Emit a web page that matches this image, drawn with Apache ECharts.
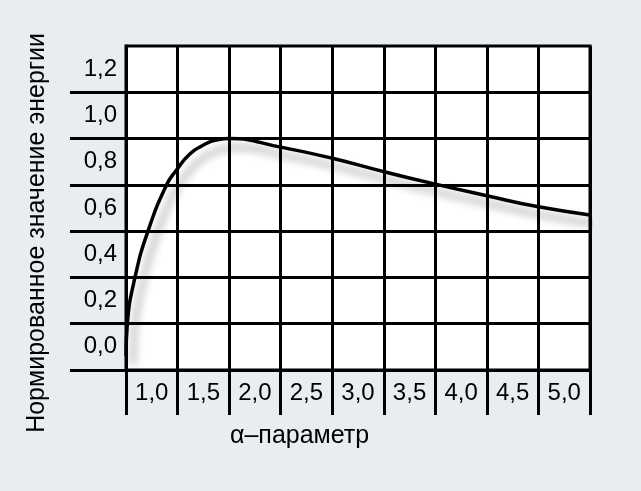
<!DOCTYPE html>
<html>
<head>
<meta charset="utf-8">
<script src="https://cdn.jsdelivr.net/npm/echarts@6/dist/echarts.min.js"></script>
<style>
html,body{margin:0;padding:0;background:#e8edf0;}
#chart{width:641px;height:491px;}
</style>
</head>
<body>
<div id="chart"></div>
<script>
// Data
const alphaValues = [1.0, 1.013, 1.087, 1.213, 1.394, 1.49, 1.6, 1.75, 1.9, 2.0, 2.5, 3.0, 3.5, 4.0, 4.5, 5.0, 5.5];
const energyValues = [0.06, 0.2, 0.4, 0.6, 0.8, 0.864, 0.925, 0.972, 0.996, 1.0, 0.963, 0.915, 0.857, 0.803, 0.753, 0.705, 0.67];
const xTickValues = [1.0, 1.5, 2.0, 2.5, 3.0, 3.5, 4.0, 4.5, 5.0, 5.5];
const xTickLabels = ['1,0', '1,5', '2,0', '2,5', '3,0', '3,5', '4,0', '4,5', '5,0'];
const yTickValues = [0, 0.2, 0.4, 0.6, 0.8, 1.0, 1.2];
const yTickLabels = ['0,0', '0,2', '0,4', '0,6', '0,8', '1,0', '1,2'];
const xTitle = 'α–параметр';
const yTitle = 'Нормированное значение энергии';

const chart = echarts.init(document.getElementById('chart'));
const FONT = 'Liberation Sans, Arial, sans-serif';
const xLabelPos = xTickLabels.map((_, i) => xTickValues[i] + 0.25);
const yLabelPos = yTickLabels.map((_, i) => yTickValues[i] + 0.1);

chart.setOption({
  backgroundColor: '#e8edf0',
  animation: false,
  grid: {
    left: 126, top: 46, width: 464, height: 324,
    show: true, backgroundColor: '#ffffff', borderColor: '#000', borderWidth: 3
  },
  xAxis: {
    type: 'value', min: 1.0, max: 5.5, interval: 0.5,
    axisLine: { show: true, onZero: false, lineStyle: { color: '#000', width: 3 } },
    axisTick: { show: true, customValues: xTickValues, length: 45, lineStyle: { color: '#000', width: 3 } },
    splitLine: { show: true, lineStyle: { color: '#000', width: 3 } },
    axisLabel: {
      customValues: xLabelPos,
      formatter: (v) => xTickLabels[Math.round((v - 1.25) / 0.5)],
      color: '#000', fontSize: 24, fontFamily: FONT, margin: 11
    }
  },
  yAxis: {
    type: 'value', min: 0, max: 1.4, interval: 0.2,
    axisLine: { show: true, onZero: false, lineStyle: { color: '#000', width: 3 } },
    axisTick: { show: true, customValues: yTickValues, length: 56, lineStyle: { color: '#000', width: 3 } },
    splitLine: { show: true, lineStyle: { color: '#000', width: 3 } },
    axisLabel: {
      customValues: yLabelPos,
      formatter: (v) => yTickLabels[Math.round((v - 0.1) / 0.2)],
      color: '#000', fontSize: 24, fontFamily: FONT, margin: 9
    }
  },
  series: [{
    type: 'line',
    data: alphaValues.map((x, i) => [x, energyValues[i]]),
    smooth: 0.5,
    symbol: 'none',
    clip: false,
    lineStyle: {
      color: '#000', width: 3.5,
      shadowColor: 'rgba(0,0,0,0.4)', shadowBlur: 9, shadowOffsetX: 7, shadowOffsetY: 9
    }
  }],
  graphic: [
    {
      type: 'text', left: 230, top: 424,
      style: { text: xTitle, fill: '#000', font: '25px ' + FONT }
    },
    {
      type: 'text', x: 37, y: 233, rotation: Math.PI / 2,
      style: { text: yTitle, fill: '#000', font: '25px ' + FONT, align: 'center', verticalAlign: 'middle' }
    }
  ]
});
</script>
</body>
</html>
